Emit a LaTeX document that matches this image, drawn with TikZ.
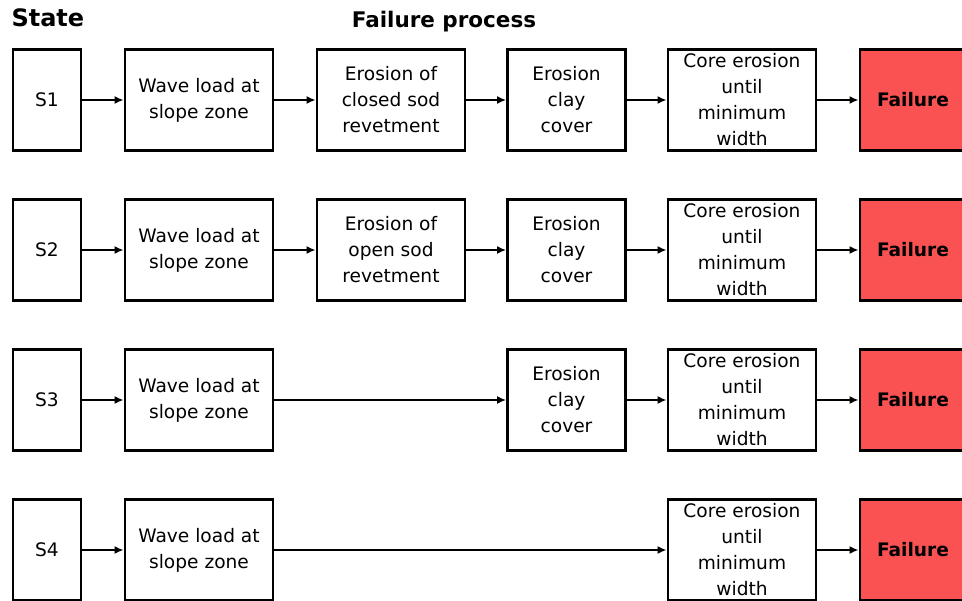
\documentclass[tikz,border=0pt]{standalone}
\usepackage{fontspec}
\usetikzlibrary{arrows.meta}
\setmainfont{DejaVu Sans}
\definecolor{failred}{RGB}{250,82,82}
\begin{document}
\begin{tikzpicture}[x=1pt,y=-1pt,
    box/.style={draw,line width=2.8pt,minimum height=101pt,inner sep=0pt,
        align=center,font=\fontsize{18.6}{26}\selectfont},
    stage/.style={box,minimum width=148pt},
    flow/.style={-{Latex[length=9pt,width=8pt]},line width=1.8pt}]
    \useasboundingbox (0,0) rectangle (962,601);
    \node[anchor=base west,font=\bfseries\fontsize{24}{28}\selectfont] (state) at (8,27) {State};
    \node[anchor=base,font=\bfseries\fontsize{21.5}{26}\selectfont] (proc) at (444,28) {Failure process};
    % Boxes and arrows that every row has.
    \foreach \r in {1,...,4} {
        \pgfmathsetmacro\yy{100+150*(\r-1)}
        \node[box,minimum width=68pt] (s\r) at (47,\yy) {S\r};
        \node[stage] (wave\r) at (199,\yy) {Wave load at\\slope zone};
        \node[stage] (core\r) at (742,\yy) {Core erosion\\until\\minimum\\width};
        \node[box,minimum width=106pt,fill=failred,font=\bfseries\fontsize{18.6}{26}\selectfont]
            (fail\r) at (913,\yy) {Failure};
        \draw[flow] (s\r) -- (wave\r);
        \draw[flow] (core\r) -- (fail\r);
    }
    % Sod revetment and clay cover, only in the upper rows.
    \node[stage] (sod1) at (391,100) {Erosion of\\closed sod\\revetment};
    \node[stage] (sod2) at (391,250) {Erosion of\\open sod\\revetment};
    \foreach \r in {1,2,3} {
        \pgfmathsetmacro\yy{100+150*(\r-1)}
        \node[box,minimum width=118pt] (clay\r) at (566.5,\yy) {Erosion\\clay\\cover};
        \draw[flow] (clay\r) -- (core\r);
    }
    \draw[flow] (wave1) -- (sod1);
    \draw[flow] (sod1) -- (clay1);
    \draw[flow] (wave2) -- (sod2);
    \draw[flow] (sod2) -- (clay2);
    \draw[flow] (wave3) -- (clay3);
    \draw[flow] (wave4) -- (core4);
\end{tikzpicture}
\end{document}
